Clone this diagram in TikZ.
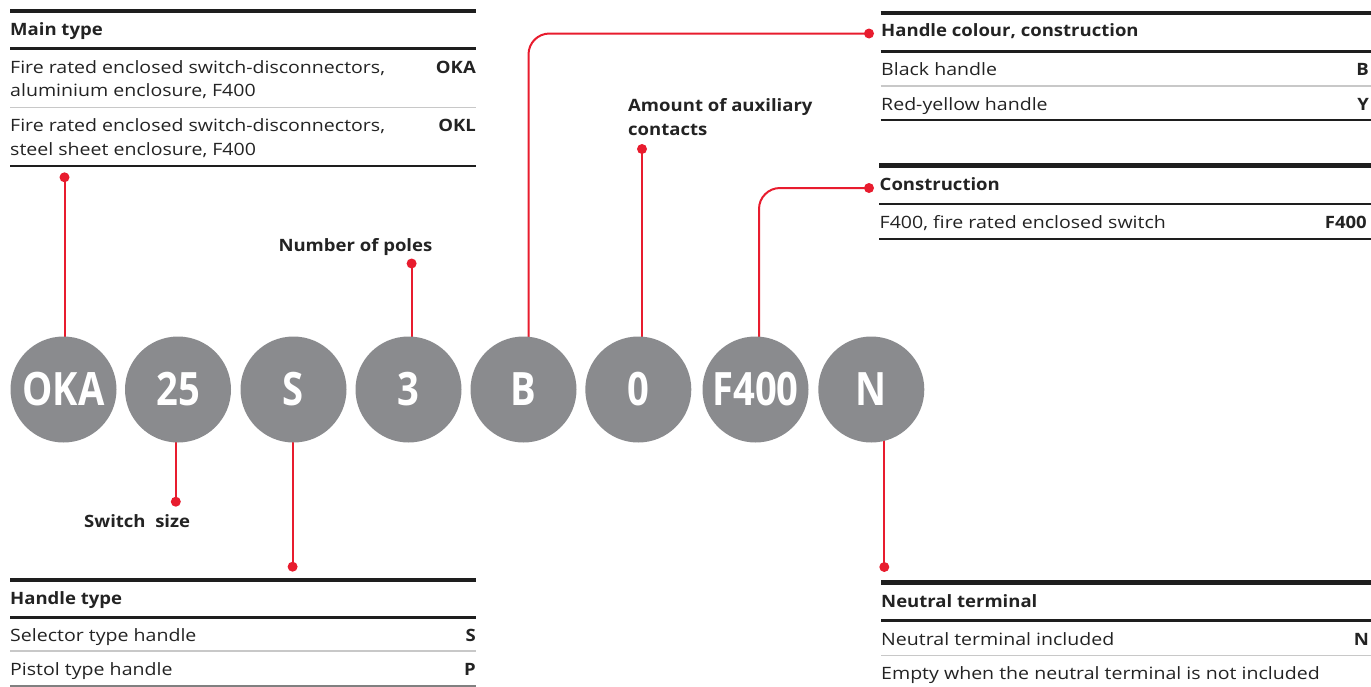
\documentclass[tikz,border=0pt]{standalone}
\usepackage{fontspec}
\setmainfont{Open Sans}[UprightFeatures={FakeStretch=1.15}, BoldFeatures={FakeStretch=1.09}]
\newfontfamily\circfont{Open Sans}[FakeStretch=0.83]
\usetikzlibrary{positioning}

\definecolor{abbred}{RGB}{232,28,46}
\definecolor{circgray}{RGB}{138,139,142}
\definecolor{ruledark}{RGB}{30,30,30}
\definecolor{rulegray}{RGB}{200,200,200}
\definecolor{inkdark}{RGB}{35,35,35}

\newcommand\bodysize{\fontsize{17}{23}\selectfont}
\newcommand\circsize{\circfont\bfseries\fontsize{46}{46}\selectfont}

\tikzset{
  rulehead/.style={draw=ruledark, line width=4.6pt},
  rulemid/.style={draw=ruledark, line width=2.6pt},
  rulesep/.style={draw=rulegray, line width=1.2pt},
  rulebot/.style={draw=ruledark, line width=2.6pt},
  celltext/.style={anchor=base west, inner sep=0pt, text=inkdark, font=\bodysize},
  headtext/.style={celltext, font=\bodysize\bfseries},
  cellcode/.style={anchor=base east, inner sep=0pt, text=inkdark, font=\bodysize\bfseries},
  codecirc/.style={circle, fill=circgray, minimum size=106pt, inner sep=0pt,
    text=white, font=\circsize},
  leader/.style={draw=abbred, line width=2pt},
  leaddot/.style={fill=abbred},
}

\begin{document}
\begin{tikzpicture}[x=1pt,y=-1pt]
  \useasboundingbox (0,0) rectangle (1371,686);

  % main type
  \draw[rulehead] (10,10.8) -- (476,10.8);
  \node[headtext] (mainhd) at (10,35) {Main type};
  \draw[rulemid] (10,48.7) -- (476,48.7);
  \node[celltext] (mainaa) at (10,73.3) {Fire rated enclosed switch-disconnectors,};
  \node[celltext] (mainab) at (10,96.7) {aluminium enclosure, F400};
  \node[cellcode] (mainac) at (476,73.3) {OKA};
  \draw[rulesep] (10,107.7) -- (476,107.7);
  \node[celltext] (mainba) at (10,131.7) {Fire rated enclosed switch-disconnectors,};
  \node[celltext] (mainbb) at (10,155.7) {steel sheet enclosure, F400};
  \node[cellcode] (mainbc) at (476,131.7) {OKL};
  \draw[rulebot] (10,166) -- (476,166);

  % handle type
  \draw[rulehead] (10,579.8) -- (476,579.8);
  \node[headtext] (handhd) at (10,604.3) {Handle type};
  \draw[rulemid] (10,617.3) -- (476,617.3);
  \node[celltext] (handaa) at (10,641.7) {Selector type handle};
  \node[cellcode] (handac) at (476,641.7) {S};
  \draw[rulesep] (10,651) -- (476,651);
  \node[celltext] (handba) at (10,675.7) {Pistol type handle};
  \node[cellcode] (handbc) at (476,675.7) {P};
  \draw[draw=gray, line width=2pt] (10,685.5) -- (476,685.5);

  % handle colour
  \draw[rulehead] (880.5,12.8) -- (1371,12.8);
  \node[headtext] (colrhd) at (881,36.7) {Handle colour, construction};
  \draw[rulemid] (880.5,51.2) -- (1371,51.2);
  \node[celltext] (colraa) at (881,75) {Black handle};
  \node[cellcode] (colrac) at (1369,75) {B};
  \draw[rulesep] (880.5,86) -- (1371,86);
  \node[celltext] (colrba) at (881,110) {Red-yellow handle};
  \node[cellcode] (colrbc) at (1369,110) {Y};
  \draw[rulebot] (880.5,120) -- (1371,120);

  % construction
  \draw[rulehead] (879,165.5) -- (1371,165.5);
  \node[headtext] (consthd) at (879.5,190.7) {Construction};
  \draw[rulemid] (879,204) -- (1371,204);
  \node[celltext] (constaa) at (879.5,228.3) {F400, fire rated enclosed switch};
  \node[cellcode] (constac) at (1367,228.3) {F400};
  \draw[rulebot] (879,239) -- (1371,239);

  % neutral terminal
  \draw[rulehead] (881,582.5) -- (1371,582.5);
  \node[headtext] (neuthd) at (881,607.3) {Neutral terminal};
  \draw[rulemid] (881,620.3) -- (1371,620.3);
  \node[celltext] (neutaa) at (881,645) {Neutral terminal included};
  \node[cellcode] (neutac) at (1369,645) {N};
  \draw[rulesep] (881,655.3) -- (1371,655.3);
  \node[celltext] (neutba) at (881,679.3) {Empty when the neutral terminal is not included};

  % free labels
  \node[headtext] (lblpoles) at (278.3,251) {Number of poles};
  \node[headtext] (lblsize) at (84,527.3) {Switch\ \ size};
  \node[headtext] (lblauxa) at (628,111.7) {Amount of auxiliary};
  \node[headtext] (lblauxb) at (628,135) {contacts};

  % dots
  \coordinate (dotmain) at (64.5,177.3);
  \coordinate (dotsize) at (175.8,501.7);
  \coordinate (dothand) at (292.6,566.7);
  \coordinate (dotpole) at (411.6,263.5);
  \coordinate (dotcolr) at (869,33.5);
  \coordinate (dotaux) at (642,149);
  \coordinate (dotcons) at (869,188);
  \coordinate (dotneut) at (884.3,567);

  % positions of the code circles
  \coordinate (pOKA) at (63.5,389.5);
  \coordinate (p25) at (178,389.5);
  \coordinate (pS) at (293.5,389.5);
  \coordinate (p3) at (408.5,389.5);
  \coordinate (pB) at (523.5,389.5);
  \coordinate (p0) at (638.3,389.5);
  \coordinate (pF) at (755.5,389.5);
  \coordinate (pN) at (871.3,389.5);

  % leaders
  \draw[leader] (dotmain) -- (dotmain |- pOKA);
  \draw[leader] (dotsize) -- (dotsize |- p25);
  \draw[leader] (dothand) -- (dothand |- pS);
  \draw[leader] (dotpole) -- (dotpole |- p3);
  \draw[leader, rounded corners=21pt] ([xshift=5pt]pB) |- (dotcolr);
  \draw[leader] (dotaux) -- (dotaux |- p0);
  \draw[leader, rounded corners=21pt] ([xshift=3.5pt]pF) |- (dotcons);
  \draw[leader] (dotneut) -- (dotneut |- pN);
  \foreach \d in {dotmain,dotsize,dothand,dotpole,dotcolr,dotaux,dotcons,dotneut}
    \fill[leaddot] (\d) circle[radius=5pt];

  % code circles
  \node[codecirc] (cOKA) at (pOKA) {OKA};
  \node[codecirc] (c25) at (p25) {25};
  \node[codecirc] (cS) at (pS) {S};
  \node[codecirc] (c3) at (p3) {3};
  \node[codecirc] (cB) at (pB) {B};
  \node[codecirc] (c0) at (p0) {0};
  \node[codecirc] (cF) at (pF) {F400};
  \node[codecirc] (cN) at (pN) {N};
\end{tikzpicture}
\end{document}
